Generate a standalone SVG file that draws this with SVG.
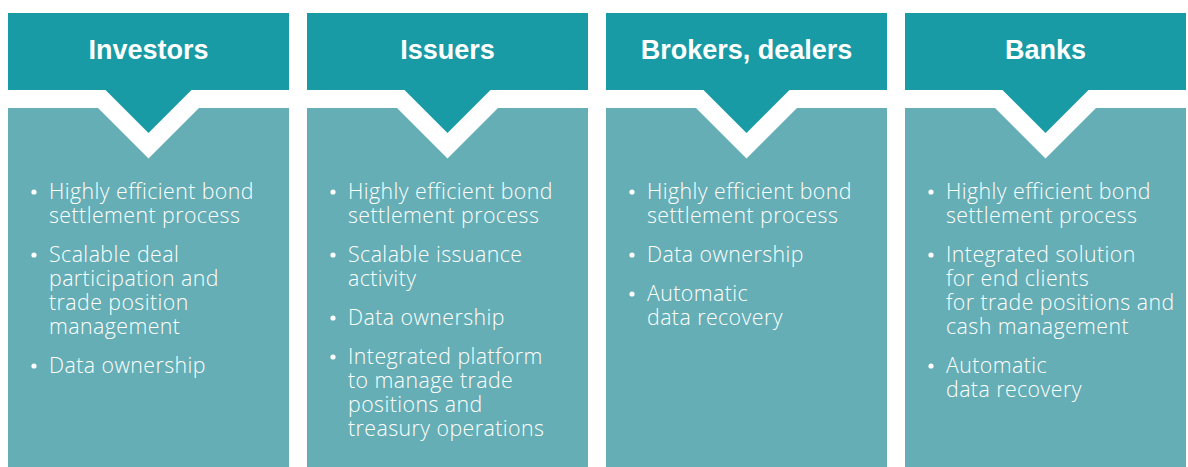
<svg xmlns="http://www.w3.org/2000/svg" xmlns:xlink="http://www.w3.org/1999/xlink" width="1188" height="467" viewBox="0 0 1188 467">
<style>
.hdr{fill:#189ba4}
.body{fill:#65aeb6}
.title{font-family:"Liberation Sans",Arial,sans-serif;font-weight:bold;font-size:27px;fill:#ffffff;text-anchor:middle}
.item{font-family:"Open Sans","Liberation Sans",sans-serif;font-weight:300;font-size:21.3px;letter-spacing:0.45px;fill:#ffffff}
.dot{fill:#ffffff}
</style>
<defs>
<path id="hdrShape" d="M0,13 H281 V90 H183.5 L140.5,133 L97.5,90 H0 Z"/>
<path id="bodyShape" d="M0,108 H90 L140.5,158.5 L191,108 H281 V467 H0 Z"/>
</defs>
<rect width="1188" height="467" fill="#ffffff"/>

<g id="investors" transform="translate(8,0)">
<use xlink:href="#bodyShape" class="body"/>
<use xlink:href="#hdrShape" class="hdr"/>
<text class="title" x="140.5" y="59">Investors</text>
<circle class="dot" cx="26" cy="192" r="2.6"/>
<circle class="dot" cx="26" cy="255" r="2.6"/>
<circle class="dot" cx="26" cy="366" r="2.6"/>
<text class="item" x="41" y="199">Highly efficient bond</text>
<text class="item" x="41" y="223">settlement process</text>
<text class="item" x="41" y="262">Scalable deal</text>
<text class="item" x="41" y="286">participation and</text>
<text class="item" x="41" y="310">trade position</text>
<text class="item" x="41" y="334">management</text>
<text class="item" x="41" y="373">Data ownership</text>
</g>

<g id="issuers" transform="translate(307,0)">
<use xlink:href="#bodyShape" class="body"/>
<use xlink:href="#hdrShape" class="hdr"/>
<text class="title" x="140.5" y="59">Issuers</text>
<circle class="dot" cx="26" cy="192" r="2.6"/>
<circle class="dot" cx="26" cy="255" r="2.6"/>
<circle class="dot" cx="26" cy="318" r="2.6"/>
<circle class="dot" cx="26" cy="357" r="2.6"/>
<text class="item" x="41" y="199">Highly efficient bond</text>
<text class="item" x="41" y="223">settlement process</text>
<text class="item" x="41" y="262">Scalable issuance</text>
<text class="item" x="41" y="286">activity</text>
<text class="item" x="41" y="325">Data ownership</text>
<text class="item" x="41" y="364">Integrated platform</text>
<text class="item" x="41" y="388">to manage trade</text>
<text class="item" x="41" y="412">positions and</text>
<text class="item" x="41" y="436">treasury operations</text>
</g>

<g id="brokers-dealers" transform="translate(606,0)">
<use xlink:href="#bodyShape" class="body"/>
<use xlink:href="#hdrShape" class="hdr"/>
<text class="title" x="140.5" y="59">Brokers, dealers</text>
<circle class="dot" cx="26" cy="192" r="2.6"/>
<circle class="dot" cx="26" cy="255" r="2.6"/>
<circle class="dot" cx="26" cy="294" r="2.6"/>
<text class="item" x="41" y="199">Highly efficient bond</text>
<text class="item" x="41" y="223">settlement process</text>
<text class="item" x="41" y="262">Data ownership</text>
<text class="item" x="41" y="301">Automatic</text>
<text class="item" x="41" y="325">data recovery</text>
</g>

<g id="banks" transform="translate(905,0)">
<use xlink:href="#bodyShape" class="body"/>
<use xlink:href="#hdrShape" class="hdr"/>
<text class="title" x="140.5" y="59">Banks</text>
<circle class="dot" cx="26" cy="192" r="2.6"/>
<circle class="dot" cx="26" cy="255" r="2.6"/>
<circle class="dot" cx="26" cy="366" r="2.6"/>
<text class="item" x="41" y="199">Highly efficient bond</text>
<text class="item" x="41" y="223">settlement process</text>
<text class="item" x="41" y="262">Integrated solution</text>
<text class="item" x="41" y="286">for end clients</text>
<text class="item" x="41" y="310">for trade positions and</text>
<text class="item" x="41" y="334">cash management</text>
<text class="item" x="41" y="373">Automatic</text>
<text class="item" x="41" y="397">data recovery</text>
</g>
</svg>
